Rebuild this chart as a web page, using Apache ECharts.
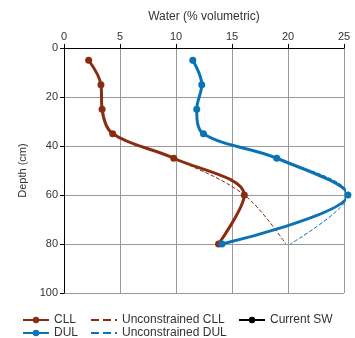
<!DOCTYPE html>
<html><head><meta charset="utf-8">
<script src="https://cdn.jsdelivr.net/npm/echarts@6/dist/echarts.min.js"></script>
<style>html,body{margin:0;padding:0;background:#fff}#c{width:355px;height:338px}</style>
</head><body><div id="c"></div>
<script>
const depths = [5, 15, 25, 35, 45, 60, 80];
const cll = [2.2, 3.3, 3.4, 4.35, 9.8, 16.1, 13.8];
const dul = [11.5, 12.3, 11.85, 12.45, 19.0, 25.35, 14.1];
const uncCll = [2.2, 3.3, 3.4, 4.35, 9.8, 16.1, 19.8];
const uncDul = [11.5, 12.3, 11.85, 12.45, 19.0, 25.35, 20.2];
const xTicks = [0, 5, 10, 15, 20, 25];
const yTicks = [0, 20, 40, 60, 80, 100];

const pairs = a => a.map((v, i) => [v, depths[i]]);
const BROWN = '#8a2c12', BLUE = '#0a72b5';
const font = 'Liberation Sans, Arial, sans-serif';
const legendText = {color: '#333', fontSize: 12, fontFamily: font};
const mkLegend = (name, left, top, noDot) => ({
  data: [noDot ? {name: name, itemStyle: {opacity: 0}} : name],
  left: left, top: top, itemWidth: 26, itemHeight: 8, padding: 0, textStyle: legendText});

const chart = echarts.init(document.getElementById('c'));
chart.setOption({
  animation: false,
  textStyle: {fontFamily: font},
  grid: {left: 64, right: 11, top: 48, bottom: 45},
  xAxis: {
    type: 'value', position: 'top', min: xTicks[0], max: xTicks[xTicks.length-1], interval: 5,
    name: 'Water (% volumetric)', nameLocation: 'middle', nameGap: 25,
    nameTextStyle: {color: '#333', fontSize: 12, fontFamily: font},
    axisLine: {show: true, lineStyle: {color: '#000', width: 1}},
    axisTick: {show: true, length: 4, lineStyle: {color: '#000'}},
    axisLabel: {color: '#333', fontSize: 11, margin: 6, fontFamily: font},
    splitLine: {show: true, lineStyle: {color: '#999', width: 1}}
  },
  yAxis: {
    type: 'value', inverse: true, min: yTicks[0], max: yTicks[yTicks.length-1], interval: 20,
    name: 'Depth (cm)', nameLocation: 'middle', nameGap: 36, nameRotate: 90,
    nameTextStyle: {color: '#333', fontSize: 11, fontFamily: font},
    axisLine: {show: true, lineStyle: {color: '#000', width: 1}},
    axisTick: {show: true, length: 4, lineStyle: {color: '#000'}},
    axisLabel: {color: '#333', fontSize: 11, margin: 6, fontFamily: font},
    splitLine: {show: true, lineStyle: {color: '#999', width: 1}}
  },
  legend: [
    mkLegend('CLL', 22, 314),
    mkLegend('DUL', 22, 327),
    mkLegend('Unconstrained CLL', 90, 314, true),
    mkLegend('Unconstrained DUL', 90, 327, true),
    mkLegend('Current SW', 238, 314)
  ],
  series: [
    {name: 'Unconstrained CLL', type: 'line', data: pairs(uncCll), smooth: 0.35, symbol: 'none', clip: false,
     lineStyle: {color: BROWN, width: 1, type: 'dashed'}, itemStyle: {color: BROWN}},
    {name: 'Unconstrained DUL', type: 'line', data: pairs(uncDul), smooth: 0.35, symbol: 'none', clip: false,
     lineStyle: {color: BLUE, width: 1, type: 'dashed'}, itemStyle: {color: BLUE}},
    {name: 'CLL', type: 'line', data: pairs(cll), smooth: 0.35, symbol: 'circle', symbolSize: 7, clip: false,
     lineStyle: {color: BROWN, width: 3}, itemStyle: {color: BROWN}},
    {name: 'DUL', type: 'line', data: pairs(dul), smooth: 0.35, symbol: 'circle', symbolSize: 7, clip: false,
     lineStyle: {color: BLUE, width: 3}, itemStyle: {color: BLUE}},
    {name: 'Current SW', type: 'line', data: [], symbol: 'circle', symbolSize: 6,
     lineStyle: {color: '#000', width: 3}, itemStyle: {color: '#000'}}
  ]
});
</script></body></html>
